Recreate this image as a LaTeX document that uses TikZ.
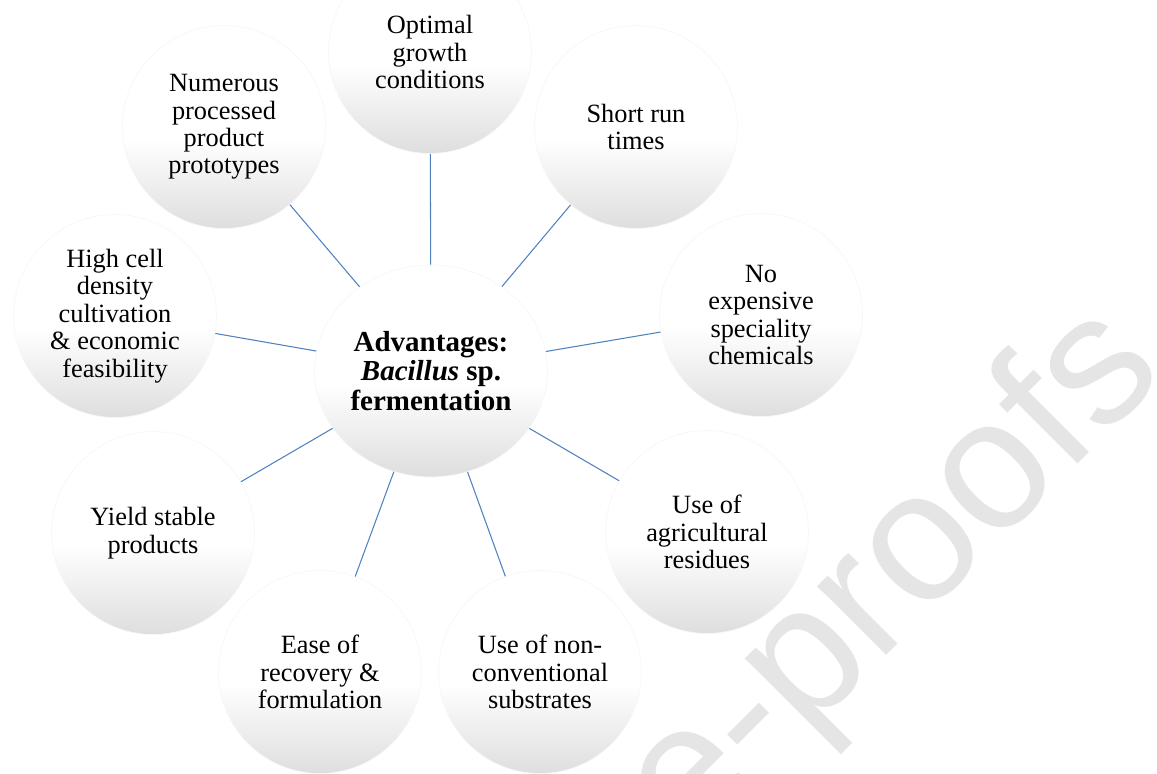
\documentclass[tikz,border=0pt]{standalone}
\usepackage{fontspec}
\setmainfont{Liberation Serif}
\newfontfamily\wmfont{Liberation Sans}
\usetikzlibrary{shapes.geometric}

\pgfdeclareverticalshading{bubbleshade}{100bp}{color(0bp)=(black!13); color(25bp)=(black!13); color(47bp)=(white); color(100bp)=(white)}
\definecolor{spokeblue}{RGB}{79,129,189}

\tikzset{
  bubble/.style={circle, shading=bubbleshade, draw=black!3, minimum size=4.06cm,
    inner sep=0pt, align=center, font=\fontsize{15}{15.6}\selectfont},
  hub/.style={ellipse, shading=bubbleshade, draw=black!3, minimum width=4.66cm,
    minimum height=4.24cm, inner sep=0pt, align=center,
    font=\fontsize{16.5}{17}\selectfont\bfseries},
  spoke/.style={draw=spokeblue, line width=0.6pt}
}

\begin{document}
\begin{tikzpicture}[x=0.02cm, y=-0.02cm]
  \useasboundingbox (0,0) rectangle (1157,774);
  \begin{scope}
    \clip (0,0) rectangle (1157,774);
    \node[rotate=45, anchor=base east, inner sep=0pt, text=black!10,
      font=\wmfont\fontsize{105}{105}\selectfont] (wm) at (1168,374) {e-proofs};
  \end{scope}

  \node[hub] (adv) at (431,371) {Advantages:\\ \textit{Bacillus} sp.\\ fermentation};

  \node[bubble] (growth) at (430,52) {Optimal\\ growth\\ conditions};
  \node[bubble] (runtime) at (636,127) {Short run\\ times};
  \node[bubble] (chem) at (761,315) {No\\ expensive\\ speciality\\ chemicals};
  \node[bubble] (agri) at (707,532) {Use of\\ agricultural\\ residues};
  \node[bubble] (substr) at (540,672) {Use of non-\\ conventional\\ substrates};
  \node[bubble] (recov) at (320,672) {Ease of\\ recovery \&\\ formulation};
  \node[bubble] (yield) at (153,533) {Yield stable\\ products};
  \node[bubble] (hcd) at (115,316) {High cell\\ density\\ cultivation\\ \& economic\\ feasibility};
  \node[bubble] (proto) at (224,127) {Numerous\\ processed\\ product\\ prototypes};

  \foreach \n in {growth, runtime, chem, agri, substr, recov, yield, hcd, proto}
    \draw[spoke] (adv) -- (\n);
\end{tikzpicture}
\end{document}
